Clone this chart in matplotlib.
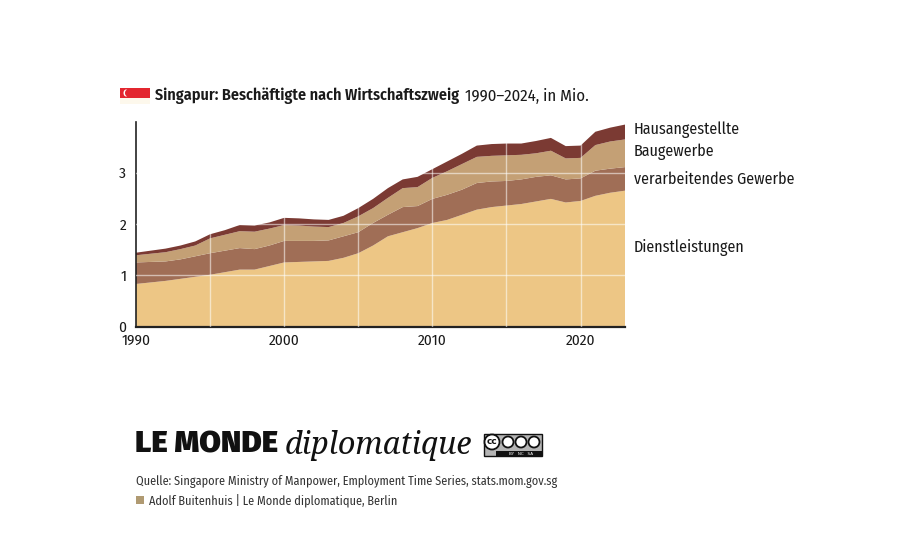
import numpy as np
import matplotlib; matplotlib.use("Agg")
import matplotlib.pyplot as plt
from matplotlib.patches import Rectangle, Ellipse

years = list(range(1990, 2024))
# employed persons by sector, millions
dienstleistungen = [0.83, 0.86, 0.89, 0.93, 0.97, 1.01, 1.06, 1.11, 1.11, 1.18,
                    1.25, 1.26, 1.27, 1.28, 1.34, 1.43, 1.58, 1.76, 1.84, 1.92,
                    2.02, 2.08, 2.18, 2.28, 2.33, 2.36, 2.39, 2.44, 2.49, 2.42,
                    2.45, 2.55, 2.61, 2.65]
verarbeitend = [0.42, 0.40, 0.38, 0.38, 0.40, 0.42, 0.42, 0.42, 0.40, 0.40,
                0.42, 0.41, 0.40, 0.40, 0.42, 0.41, 0.44, 0.42, 0.49, 0.43,
                0.47, 0.49, 0.49, 0.52, 0.50, 0.48, 0.48, 0.48, 0.46, 0.45,
                0.44, 0.49, 0.47, 0.46]
baugewerbe = [0.14, 0.16, 0.18, 0.20, 0.21, 0.29, 0.31, 0.33, 0.34, 0.33,
              0.31, 0.30, 0.28, 0.26, 0.26, 0.31, 0.29, 0.33, 0.37, 0.37,
              0.41, 0.46, 0.50, 0.51, 0.50, 0.50, 0.48, 0.46, 0.48, 0.41,
              0.40, 0.50, 0.53, 0.54]
hausangestellte = [0.05, 0.06, 0.07, 0.07, 0.08, 0.08, 0.09, 0.12, 0.12, 0.12,
                   0.14, 0.14, 0.14, 0.14, 0.14, 0.16, 0.18, 0.19, 0.17, 0.20,
                   0.17, 0.19, 0.20, 0.22, 0.23, 0.23, 0.22, 0.24, 0.25, 0.24,
                   0.24, 0.26, 0.27, 0.29]
labels = ["Dienstleistungen", "verarbeitendes Gewerbe", "Baugewerbe", "Hausangestellte"]
colors = ["#edc685", "#a06e56", "#c4a075", "#7b3a33"]
label_y = [247, 179, 152, 130]   # pixel rows of the right-hand labels

W, H = 913, 558
COND = ["Fira Sans Condensed", "Roboto Condensed", "Open Sans Condensed",
        "Liberation Sans Narrow", "DejaVu Sans"]
plt.rcParams["font.family"] = COND
TXT = "#1a1a1a"

fig = plt.figure(figsize=(W/100, H/100), dpi=100)
def fx(x): return x / W
def fy(y): return 1 - y / H

ax = fig.add_axes([fx(136), fy(326.5), fx(625) - fx(136), fy(121.5) - fy(326.5)])
ax.stackplot(years, dienstleistungen, verarbeitend, baugewerbe, hausangestellte,
             colors=colors, lw=0)
ax.set_xlim(1990, 2023); ax.set_ylim(0, 4)
for x in range(1995, 2021, 5):
    ax.axvline(x, color="white", lw=1, alpha=0.55, zorder=3)
for y in (1, 2, 3):
    ax.axhline(y, color="white", lw=1, alpha=0.55, zorder=3)
for s in ("top", "right"): ax.spines[s].set_visible(False)
ax.spines["left"].set_color("#222"); ax.spines["left"].set_linewidth(1.2)
ax.spines["bottom"].set_color("#222"); ax.spines["bottom"].set_linewidth(1.6)
ax.set_xticks([1990, 2000, 2010, 2020]); ax.set_yticks([0, 1, 2, 3])
ax.tick_params(length=0, labelsize=11, colors=TXT)
ax.tick_params(axis="y", pad=7)
ax.tick_params(axis="x", pad=5.5)

for lab, yy in zip(labels, label_y):
    fig.text(fx(634), fy(yy), lab, fontsize=11.5, color=TXT, va="center", ha="left")

# flag
fig.patches.append(Rectangle((fx(120), fy(98)), fx(30), fy(88) - fy(98),
                             transform=fig.transFigure, color="#e3262f", lw=0))
fig.patches.append(Rectangle((fx(120), fy(104)), fx(30), fy(98) - fy(104),
                             transform=fig.transFigure, color="#fdf8ec", lw=0))
fig.patches.append(Ellipse((fx(126), fy(93)), fx(5), fy(88) - fy(95),
                           transform=fig.transFigure, color="white", lw=0))
fig.patches.append(Ellipse((fx(127.2), fy(93)), fx(4.4), fy(88.5) - fy(94.8),
                           transform=fig.transFigure, color="#e3262f", lw=0))

t1 = fig.text(fx(155), fy(96), "Singapur: Beschäftigte nach Wirtschaftszweig",
              fontsize=11.6, fontweight="semibold", color=TXT, va="center")
ax.annotate("1990–2024, in Mio.", xy=(1, 0.5), xycoords=t1, xytext=(4, 0),
            textcoords="offset points", fontsize=12, color=TXT, va="center",
            annotation_clip=False)

# masthead
t2 = fig.text(fx(135), fy(444), "LE MONDE", fontsize=22.5, fontweight=900,
              color="#111", va="center", family=["Fira Sans", "Roboto", "DejaVu Sans"])
ax.annotate("diplomatique", xy=(1, 0.5), xycoords=t2, xytext=(5, -1),
            textcoords="offset points", fontsize=22, style="italic",
            color="#111", va="center", family=["Noto Serif", "DejaVu Serif"],
            annotation_clip=False)

# cc badge
bx0, bx1, by0, by1 = 484, 542, 434, 456
fig.patches.append(Rectangle((fx(bx0), fy(by1)), fx(bx1 - bx0), fy(by0) - fy(by1),
                             transform=fig.transFigure, fc="#b5b5b5", ec="#111", lw=1))
fig.patches.append(Rectangle((fx(bx0 + 12), fy(by1)), fx(bx1 - bx0 - 12), fy(451) - fy(by1),
                             transform=fig.transFigure, fc="#111", lw=0))
for cx, r in ((492, 7.5), (508, 5.5), (521, 5.5), (534, 5.5)):
    fig.patches.append(Ellipse((fx(cx), fy(442)), fx(2 * r), fy(442 - r) - fy(442 + r),
                               transform=fig.transFigure, fc="white", ec="#111", lw=1.3))
fig.text(fx(492), fy(442), "cc", fontsize=6.5, fontweight="bold", ha="center",
         va="center", color="#111", family=["DejaVu Sans"])
fig.text(fx(521), fy(453.6), "BY   NC   SA", fontsize=3, color="white", ha="center",
         va="center", family=["DejaVu Sans"])

fig.text(fx(136), fy(482), "Quelle: Singapore Ministry of Manpower, Employment Time Series, stats.mom.gov.sg",
         fontsize=8.8, color="#333", va="center")
fig.patches.append(Rectangle((fx(136), fy(504)), fx(8), fy(496) - fy(504),
                             transform=fig.transFigure, color="#b09a72", lw=0))
fig.text(fx(149), fy(500), "Adolf Buitenhuis | Le Monde diplomatique, Berlin",
         fontsize=8.8, color="#333", va="center")

fig.savefig("out.png", dpi=100)
